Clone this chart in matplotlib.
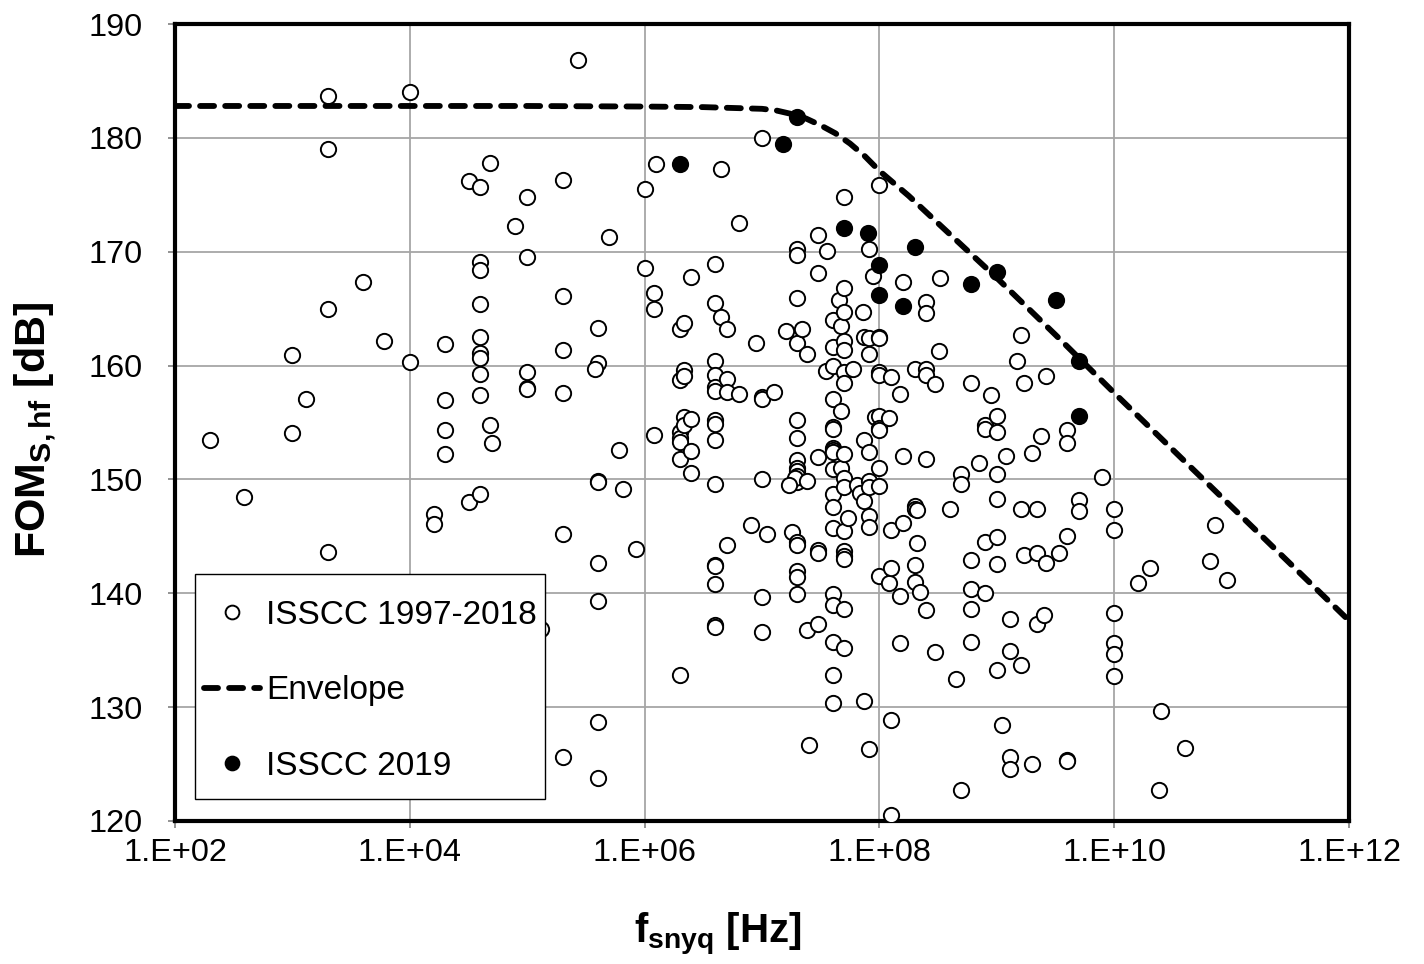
import numpy as np
import matplotlib
matplotlib.use("Agg")
import matplotlib.pyplot as plt
from matplotlib.patches import Rectangle
from matplotlib.ticker import FixedLocator, FuncFormatter, NullLocator

plt.rcParams['font.family'] = ['Liberation Sans', 'DejaVu Sans']
plt.rcParams['mathtext.fontset'] = 'custom'
plt.rcParams['mathtext.rm'] = 'Liberation Sans'
plt.rcParams['mathtext.bf'] = 'Liberation Sans:bold'
plt.rcParams['mathtext.it'] = 'Liberation Sans:italic'

#
# Data: fsnyq [Hz], FOM_S,hf [dB]
#

# ISSCC 1997-2018 (open circles)
old_f = [
    2.0e2, 3.9e2, 1.0e3, 1.0e3, 1.3e3, 2.0e3, 2.0e3, 2.0e3, 2.0e3, 4.0e3, 6.0e3,
    1.0e4, 1.0e4, 1.6e4, 1.6e4, 2.0e4, 2.0e4, 2.0e4, 2.0e4, 3.2e4, 3.2e4,
    4.0e4, 4.0e4, 4.0e4, 4.0e4, 4.0e4, 4.0e4, 4.0e4, 4.0e4, 4.0e4, 4.0e4,
    4.8e4, 4.8e4, 5.0e4, 7.9e4,
    1.0e5, 1.0e5, 1.0e5, 1.0e5, 1.0e5, 1.3e5,
    2.0e5, 2.0e5, 2.0e5, 2.0e5, 2.0e5, 2.0e5, 2.7e5,
    4.0e5, 4.0e5, 3.8e5, 4.0e5, 4.0e5, 4.0e5, 4.0e5, 4.0e5, 4.0e5,
    5.0e5, 6.0e5, 6.6e5, 8.5e5,
    1.0e6, 1.0e6, 1.2e6, 1.2e6, 1.2e6, 1.26e6,
    2.0e6, 2.0e6, 2.0e6, 2.0e6, 2.0e6, 2.0e6, 2.0e6,
    2.15e6, 2.15e6, 2.15e6, 2.15e6, 2.15e6,
    2.5e6, 2.5e6, 2.5e6, 2.5e6,
    4.0e6, 4.0e6, 4.0e6, 4.0e6, 4.0e6, 4.0e6, 4.0e6, 4.0e6, 4.0e6, 4.0e6,
    4.0e6, 4.0e6, 4.0e6, 4.0e6, 4.0e6,
    4.5e6, 4.5e6, 5.0e6, 5.0e6, 5.0e6, 5.0e6, 6.4e6, 6.4e6, 8.1e6, 8.9e6,
    1.0e7, 1.0e7, 1.0e7, 1.0e7, 1.0e7, 1.0e7, 1.1e7, 1.26e7, 1.6e7, 1.8e7,
    2.0e7, 2.0e7, 2.0e7, 2.0e7, 2.0e7, 2.0e7, 2.0e7, 2.0e7, 2.0e7, 2.0e7,
    2.0e7, 2.0e7, 2.0e7, 2.0e7, 2.0e7, 2.0e7,
    2.2e7, 1.9e7, 1.7e7, 2.4e7, 2.4e7, 2.4e7, 2.5e7,
    3.0e7, 3.0e7, 3.0e7, 3.0e7, 3.0e7, 3.0e7, 3.6e7, 3.5e7,
    4.0e7, 4.0e7, 4.0e7, 4.0e7, 4.0e7, 4.0e7, 4.0e7, 4.0e7, 4.0e7, 4.0e7,
    4.0e7, 4.0e7, 4.0e7, 4.0e7, 4.0e7, 4.0e7, 4.0e7, 4.0e7,
    4.5e7, 4.7e7, 4.7e7, 4.7e7,
    5.0e7, 5.0e7, 5.0e7, 5.0e7, 5.0e7, 5.0e7, 5.0e7, 5.0e7, 5.0e7, 5.0e7,
    5.0e7, 5.0e7, 5.0e7, 5.0e7, 5.0e7, 5.0e7,
    5.4e7, 6.0e7, 6.4e7, 6.8e7, 7.2e7, 7.4e7, 7.4e7, 7.4e7, 7.4e7,
    8.1e7, 8.1e7, 8.1e7, 8.1e7, 8.1e7, 8.1e7, 8.1e7, 8.1e7, 8.1e7,
    8.9e7, 9.2e7,
    1.0e8, 1.0e8, 1.0e8, 1.0e8, 1.0e8, 1.0e8, 1.0e8, 1.0e8, 1.0e8, 1.0e8, 1.0e8,
    1.2e8, 1.2e8, 1.26e8, 1.26e8, 1.26e8, 1.26e8, 1.26e8,
    1.5e8, 1.5e8, 1.5e8, 1.6e8, 1.6e8, 1.6e8,
    2.0e8, 2.0e8, 2.0e8, 2.0e8, 2.0e8, 2.1e8, 2.1e8, 2.2e8,
    2.5e8, 2.5e8, 2.5e8, 2.5e8, 2.5e8, 2.5e8,
    3.0e8, 3.0e8, 3.2e8, 3.3e8, 4.0e8, 4.5e8, 5.0e8, 5.0e8, 5.0e8,
    6.0e8, 6.0e8, 6.0e8, 6.0e8, 6.0e8, 7.1e8,
    7.9e8, 7.9e8, 7.9e8, 7.9e8, 8.9e8,
    1.0e9, 1.0e9, 1.0e9, 1.0e9, 1.0e9, 1.0e9, 1.0e9, 1.1e9, 1.2e9,
    1.3e9, 1.3e9, 1.3e9, 1.3e9, 1.5e9, 1.6e9, 1.6e9, 1.6e9, 1.7e9, 1.7e9,
    2.0e9, 2.0e9, 2.2e9, 2.2e9, 2.2e9, 2.4e9, 2.5e9, 2.6e9, 2.6e9, 3.4e9,
    4.0e9, 4.0e9, 4.0e9, 4.0e9, 4.0e9, 5.0e9, 5.0e9, 7.9e9,
    1.0e10, 1.0e10, 1.0e10, 1.0e10, 1.0e10, 1.0e10,
    1.6e10, 2.0e10, 2.4e10, 2.5e10, 4.0e10, 6.5e10, 7.2e10, 9.1e10,
]
old_fom = [
    153.5, 148.5, 160.9, 154.1, 157.1, 183.7, 179.0, 165.0, 143.6, 167.3, 162.2,
    184.0, 160.3, 147.0, 146.1, 161.9, 157.0, 154.3, 152.2, 176.2, 148.0,
    175.7, 169.1, 168.4, 165.4, 162.5, 161.1, 160.7, 159.3, 157.4, 148.7,
    177.8, 154.8, 153.2, 172.3,
    174.8, 169.5, 159.4, 158.0, 157.9, 136.9,
    176.3, 166.1, 161.4, 157.6, 145.2, 125.6, 186.8,
    163.3, 160.2, 159.7, 149.9, 149.8, 142.7, 139.3, 128.7, 123.8,
    171.3, 152.6, 149.2, 143.9,
    175.5, 168.6, 166.4, 165.0, 153.9, 177.7,
    163.2, 158.7, 154.2, 153.6, 153.3, 151.8, 132.8,
    163.7, 159.6, 159.1, 155.5, 154.8,
    167.8, 155.3, 152.5, 150.6,
    168.9, 165.5, 160.4, 159.2, 158.1, 157.8, 155.2, 154.9, 153.5, 149.6,
    142.5, 142.4, 140.8, 137.2, 137.0,
    177.3, 164.3, 163.2, 158.8, 157.7, 144.2, 172.5, 157.5, 146.0, 162.0,
    180.0, 157.2, 157.1, 150.0, 139.7, 136.6, 145.2, 157.7, 163.0, 145.4,
    170.2, 169.7, 165.9, 162.0, 155.2, 153.6, 151.7, 151.0, 150.7, 150.3,
    149.8, 144.5, 144.2, 142.0, 141.4, 139.9,
    163.2, 150.1, 149.5, 149.9, 161.0, 136.8, 126.7,
    171.5, 168.1, 152.0, 143.8, 143.5, 137.3, 170.1, 159.5,
    164.0, 161.6, 160.0, 157.1, 154.6, 154.4, 152.8, 152.6, 152.4, 150.9,
    148.7, 147.6, 145.7, 139.9, 139.0, 135.7, 132.8, 130.4,
    165.8, 163.5, 156.0, 151.0,
    174.8, 166.8, 164.7, 162.2, 161.4, 159.4, 158.5, 152.2, 150.1, 149.3,
    145.5, 143.7, 143.3, 143.0, 138.6, 135.2,
    146.6, 159.7, 149.5, 148.8, 164.7, 162.5, 153.5, 148.1, 130.5,
    170.2, 162.4, 161.0, 152.4, 149.9, 149.3, 146.8, 145.8, 126.3,
    167.9, 155.5,
    175.9, 162.5, 162.4, 159.4, 159.2, 155.6, 154.5, 154.3, 151.0, 149.4, 141.5,
    155.4, 140.9, 159.0, 145.6, 142.2, 128.9, 120.5,
    157.5, 139.8, 135.6, 167.3, 152.1, 146.2,
    159.7, 147.7, 147.4, 142.5, 141.0, 147.3, 144.4, 140.1,
    165.6, 164.6, 159.7, 159.2, 151.8, 138.5,
    158.4, 134.8, 161.3, 167.7, 147.4, 132.5, 150.5, 149.6, 122.7,
    158.5, 142.9, 140.4, 138.6, 135.7, 151.4,
    154.8, 154.4, 144.5, 140.0, 157.4,
    155.6, 154.2, 150.5, 148.3, 144.9, 142.6, 133.3, 128.4, 152.1,
    137.7, 134.9, 125.6, 124.6, 160.4, 162.7, 147.4, 133.7, 158.5, 143.4,
    152.3, 125.0, 147.4, 143.5, 137.3, 153.8, 138.1, 159.1, 142.7, 143.5,
    154.3, 153.2, 145.0, 125.4, 125.3, 148.2, 147.2, 150.2,
    147.4, 145.6, 138.3, 135.6, 134.7, 132.7,
    140.9, 142.2, 122.7, 129.7, 126.4, 142.8, 146.0, 141.2,
]

# ISSCC 2019 (filled circles)
new_f = [2.0e6, 1.5e7, 2.0e7, 5.0e7, 8.0e7, 1.0e8, 1.0e8, 1.6e8, 2.0e8,
         6.0e8, 1.0e9, 3.2e9, 5.0e9, 5.0e9]
new_fom = [177.7, 179.5, 181.8, 172.1, 171.6, 168.8, 166.2, 165.2, 170.4,
           167.2, 168.2, 165.8, 160.4, 155.6]

# Envelope
env_f = [1e2, 1e3, 1e4, 1e5, 1e6, 3.16e6, 1e7, 1.33e7, 1.78e7, 2.37e7,
         3.16e7, 4.22e7, 5.62e7, 7.5e7, 1e8, 1.78e8, 3.16e8, 5.62e8, 1e9,
         3.16e9, 1e10, 3.16e10, 1e11, 3.16e11, 1e12]
env_fom = [182.8, 182.8, 182.8, 182.8, 182.75, 182.7, 182.55, 182.4, 182.1,
           181.7, 181.1, 180.4, 179.5, 178.4, 177.1, 174.9, 172.5, 170.1,
           167.7, 162.7, 157.6, 152.6, 147.6, 142.6, 137.6]

xtick_vals = [1e2, 1e4, 1e6, 1e8, 1e10, 1e12]
ytick_vals = [120, 130, 140, 150, 160, 170, 180, 190]

W, H = 1424, 964
fig = plt.figure(figsize=(W/100, H/100), dpi=100)
ax = fig.add_axes([175/W, 1 - 821/H, (1349 - 175)/W, (821 - 24)/H])

ax.plot(old_f, old_fom, 'o', ls='none', mfc='white', mec='black', ms=11,
        mew=1.4, label='ISSCC 1997-2018', zorder=3)
ax.plot(env_f, env_fom, color='black', lw=4.2, ls=(0, (2.4, 1.9)),
        dash_capstyle='round', label='Envelope', zorder=4)
ax.plot(new_f, new_fom, 'o', ls='none', mfc='black', mec='black', ms=11,
        mew=1.4, label='ISSCC 2019', zorder=5)

ax.set_xscale('log')
ax.set_xlim(1e2, 1e12)
ax.set_ylim(120, 190)
ax.xaxis.set_major_locator(FixedLocator(xtick_vals))
ax.xaxis.set_minor_locator(NullLocator())
ax.xaxis.set_major_formatter(FuncFormatter(lambda v, p: '1.E+%02d' % round(np.log10(v))))
ax.set_yticks(ytick_vals)

ax.grid(True, color='#a6a6a6', lw=1.3)
ax.set_axisbelow(True)
for s in ax.spines.values():
    s.set_linewidth(3)
    s.set_color('black')
ax.tick_params(labelsize=23.4, direction='out', length=5, width=1.2, color='#808080')
ax.tick_params(axis='x', pad=7)
ax.tick_params(axis='y', pad=18)

fig.text(718/W, 1 - 935/H, r'f$_{\mathbf{snyq}}$ [Hz]', fontsize=29,
         fontweight='bold', ha='center', va='center')
fig.text(35/W, 1 - 430/H, r'FOM$_{\mathbf{S,hf}}$ [dB]', fontsize=31,
         fontweight='bold', ha='center', va='center', rotation=90)

# legend box (white, hides points behind it)
box = Rectangle((195/W, 1 - 799/H), 350/W, 225/H, transform=fig.transFigure,
                facecolor='white', edgecolor='black', lw=1.0, zorder=8,
                clip_on=False)
ax.add_patch(box)
leg = ax.legend(loc='upper left', bbox_to_anchor=(204/W, 1 - 600/H),
                bbox_transform=fig.transFigure, fontsize=24.0, frameon=False,
                borderpad=0, labelspacing=1.33, handlelength=1.69,
                handletextpad=0.18, borderaxespad=0, markerscale=0.9)
leg.set_zorder(10)

plt.savefig('out.png', dpi=100)
